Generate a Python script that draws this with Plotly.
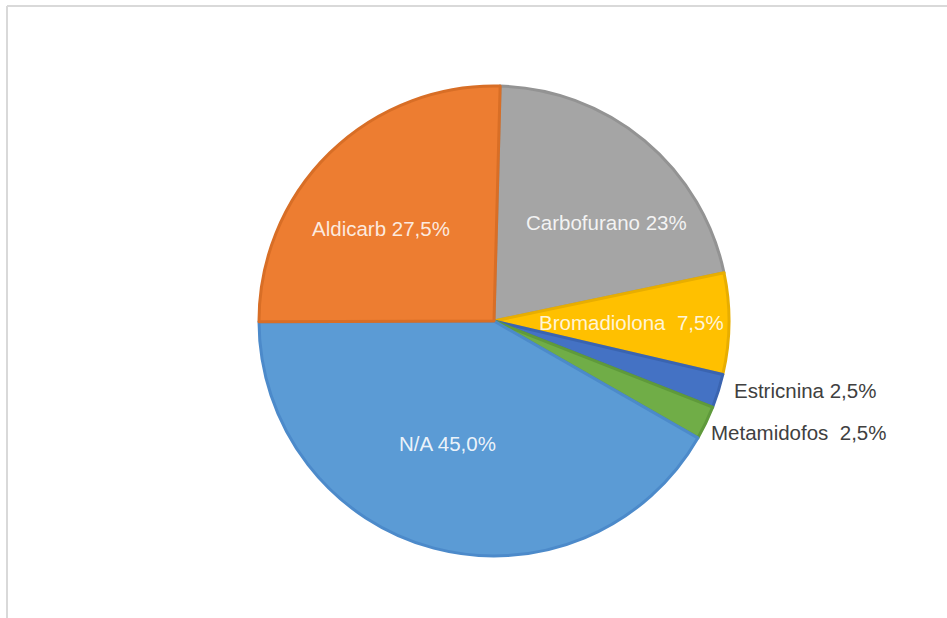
import plotly.graph_objects as go

# Data
categories = ["Carbofurano", "Bromadiolona", "Estricnina", "Metamidofos", "N/A", "Aldicarb"]
shares = [23, 7.5, 2.5, 2.5, 45, 27.5]
share_labels = ["23%", "7,5%", "2,5%", "2,5%", "45,0%", "27,5%"]

# Styling
fill_colors = ["#A5A5A5", "#FFC000", "#4472C4", "#70AD47", "#5B9BD5", "#ED7D31"]
edge_colors = ["#939393", "#E8AE00", "#3A64B0", "#5F9A3B", "#4C8ACA", "#D86E26"]
label_colors = ["rgba(255,255,255,0.88)", "rgba(255,255,255,0.85)", "#404040",
                "#404040", "rgba(255,255,255,0.9)", "rgba(255,255,255,0.85)"]
label_seps = [" ", " \u00a0", " ", " \u00a0", " ", " "]
# label centres in pixels (x, y from top)
label_px = [(606, 222), (631, 323), (805, 390), (798, 433), (447, 443), (381, 228)]

W, H = 947, 618
cx, cy, r = 494, 321, 235

fig = go.Figure(go.Pie(
    labels=categories,
    values=shares,
    sort=False,
    direction="clockwise",
    rotation=1.5,
    textinfo="none",
    hoverinfo="label+percent",
    marker=dict(colors=fill_colors, line=dict(color=edge_colors, width=3)),
    domain=dict(x=[(cx - r) / W, (cx + r) / W], y=[(H - cy - r) / H, (H - cy + r) / H]),
    showlegend=False,
))

for name, lab, col, sep, (px, py) in zip(categories, share_labels, label_colors, label_seps, label_px):
    fig.add_annotation(
        x=px / W, y=1 - py / H, xref="paper", yref="paper",
        text=f"{name}{sep}{lab}", showarrow=False,
        xanchor="center", yanchor="middle",
        font=dict(family="Liberation Sans, Arial, sans-serif", size=20.5, color=col),
    )

# frame lines along the top and left edges
fig.add_shape(type="line", xref="paper", yref="paper",
              x0=7 / W, x1=1, y0=1 - 6 / H, y1=1 - 6 / H,
              line=dict(color="#D9D9D9", width=2))
fig.add_shape(type="line", xref="paper", yref="paper",
              x0=7 / W, x1=7 / W, y0=0, y1=1 - 6 / H,
              line=dict(color="#D9D9D9", width=2))

fig.update_layout(
    width=W, height=H,
    margin=dict(l=0, r=0, t=0, b=0),
    paper_bgcolor="white",
    plot_bgcolor="white",
)

fig.write_html("out.html")
